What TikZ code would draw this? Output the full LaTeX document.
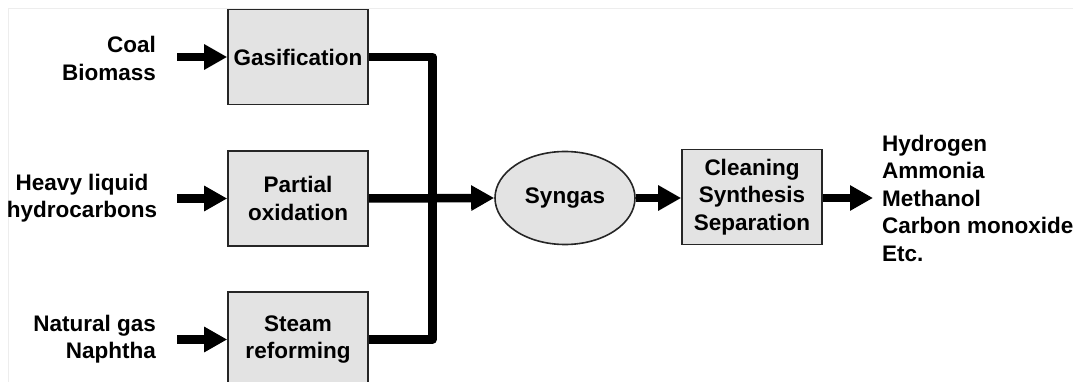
\documentclass[tikz,border=0pt]{standalone}
\usepackage{fontspec}
\setmainfont{Liberation Sans}
\usetikzlibrary{arrows.meta,shapes.geometric}
\begin{document}
\begin{tikzpicture}[x=1pt,y=-1pt,
  font=\fontsize{22.5}{27.5}\selectfont\bfseries,
  procbox/.style={draw=black!85,line width=1.6pt,fill=black!11,rectangle,
    minimum width=140pt,minimum height=95pt,inner sep=0pt,align=center},
  gasnode/.style={draw=black!85,line width=1.6pt,fill=black!11,ellipse,
    minimum width=140pt,minimum height=93pt,inner sep=0pt},
  feed/.style={inner sep=0pt},
  flow/.style={line width=8.5pt,-{Triangle[length=23pt,width=24pt]}},
  bus/.style={line width=8.5pt,line join=round}]
\clip (0,0) rectangle (1076,382);
\fill[white] (0,0) rectangle (1076,382);
% light frame
\draw[black!7,line width=1pt] (8,390) -- (8,9) -- (1073,9);

% process units
\node[procbox] (gas) at (298,57) {Gasification};
\node[procbox] (pox) at (298,198.5) {Partial\\oxidation};
\node[procbox] (steam) at (298,339.5) {Steam\\reforming};
\node[gasnode] (syn) at (565,198) {Syngas};
\node[procbox] (clean) at (752,197) {Cleaning\\Synthesis\\Separation};

% feedstocks
\node[feed,anchor=east,align=right] (f1) at (156,58.5) {Coal\\Biomass};
\node[feed,align=center] (f2) at (82,198) {Heavy liquid\\hydrocarbons};
\node[feed,anchor=east,align=right] (f3) at (156,339) {Natural gas\\Naphtha};

% products
\node[feed,anchor=west,align=left] (prod) at (882,198) {Hydrogen\\Ammonia\\Methanol\\Carbon monoxide\\Etc.};

% arrow start points and collector line
\coordinate (start) at (177,0);
\coordinate (col) at (432.5,0);
\coordinate (tip) at (873,0);

\draw[flow] (gas.west -| start) -- (gas.west);
\draw[flow] (pox.west -| start) -- (pox.west);
\draw[flow] (steam.west -| start) -- (steam.west);

\draw[bus] (gas.east) -- (gas.east -| col) -- (steam.east -| col) -- (steam.east);
\draw[flow] (pox.east) -- (syn.west);
\draw[flow] (syn.east) -- (syn.east -| clean.west);
\draw[flow] (clean.east |- syn.east) -- (syn.east -| tip);
\end{tikzpicture}
\end{document}
